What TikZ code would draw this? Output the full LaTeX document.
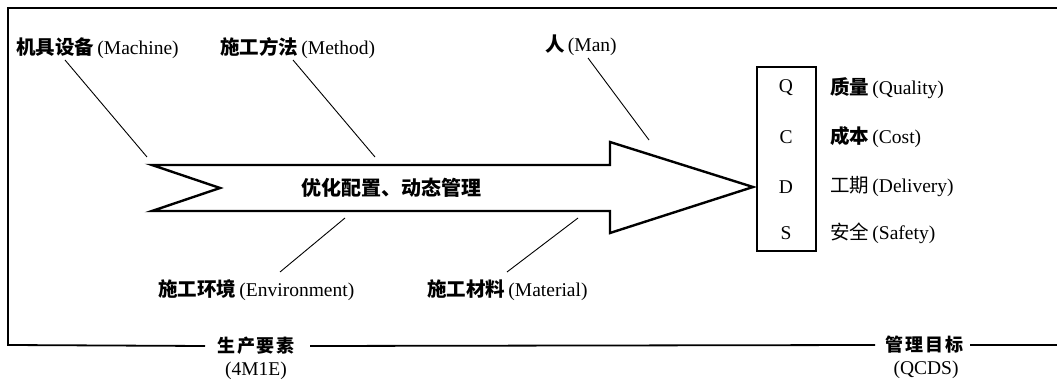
\documentclass[tikz,border=0pt]{standalone}
\usepackage{fontspec}
\setmainfont{Liberation Serif}
\newfontfamily\cjk{Noto Sans CJK SC}
\newcommand{\zh}[1]{{\cjk\bfseries #1}}
\newcommand{\zhr}[1]{{\cjk #1}}
\newcommand{\gp}{\hspace{2pt}}
\begin{document}
\begin{tikzpicture}[x=1pt,y=-1pt,
  lbl/.style={inner sep=0pt,font=\fontsize{19.5}{22}\selectfont},
  big/.style={inner sep=0pt,font=\fontsize{20}{22}\selectfont},
  captxt/.style={inner sep=0pt,font=\fontsize{18}{22}\selectfont},
  frame/.style={line width=1.8pt},
  arrowshape/.style={line width=2.4pt,line join=miter},
  fish/.style={line width=0.9pt},
  boxstyle/.style={draw,line width=1.6pt,minimum width=59pt,minimum height=184pt,inner sep=0pt}]
\useasboundingbox (0,0) rectangle (1057,379);
% labels
\node[lbl,anchor=west] (mach) at (16,48) {\zh{机具设备}\,(Machine)};
\node[lbl,anchor=west] (meth) at (220,48) {\zh{施工方法}\,(Method)};
\node[lbl,anchor=west] (man) at (545,45) {\zh{人}\,(Man)};
\node[lbl,anchor=west] (env) at (158,290) {\zh{施工环境}\,(Environment)};
\node[lbl,anchor=west] (mat) at (427,290) {\zh{施工材料}\,(Material)};
\node[big] (core) at (391,188) {\zh{优化配置、动态管理}};
% bottom captions
\node[captxt] (prod) at (256,346) {\zh{生\gp 产\gp 要\gp 素}};
\node[lbl] (prod2) at (256,371) {(4M1E)};
\node[captxt] (goal) at (924,345) {\zh{管\gp 理\gp 目\gp 标}};
\node[lbl] (goal2) at (926,370) {(QCDS)};
% frame
\coordinate (fr) at (1057,8);
\coordinate (fl) at (8,8);
\coordinate (bl) at (8,345);
\coordinate (br) at (1057,345);
\draw[frame] (fr) -- (fl) -- (bl) -- (prod.west -| 205,0);
\draw[frame] (prod.east -| 310,0) -- (goal.west -| 875,0);
\draw[frame] (goal.east -| 970,0) -- (br);
% arrow
\coordinate (t1) at (152,165);
\coordinate (tn) at (220,188);
\coordinate (t2) at (152,211);
\coordinate (s1) at (610,165);
\coordinate (h1) at (610,142);
\coordinate (tip) at (753,187);
\coordinate (h2) at (610,233);
\coordinate (s2) at (610,211);
\draw[arrowshape] (t1) -- (s1) -- (h1) -- (tip) -- (h2) -- (s2) -- (t2) -- (tn) -- cycle;
% fish bones
\coordinate (m1) at (65,60);  \coordinate (m2) at (147,157);
\coordinate (e1) at (293,60); \coordinate (e2) at (375,157);
\coordinate (n1) at (588,58); \coordinate (n2) at (649,140);
\coordinate (v1) at (345,218); \coordinate (v2) at (280,272);
\coordinate (a1) at (578,218); \coordinate (a2) at (507,272);
\draw[fish] (m1) -- (m2);
\draw[fish] (e1) -- (e2);
\draw[fish] (n1) -- (n2);
\draw[fish] (v1) -- (v2);
\draw[fish] (a1) -- (a2);
% QCDS box
\node[boxstyle] (box) at (786.5,159) {};
\node[lbl] (q) at (786,88) {Q};
\node[lbl] (c) at (786,137) {C};
\node[lbl] (d) at (786,187) {D};
\node[lbl] (s) at (786,233) {S};
\node[lbl,anchor=west] (ql) at (830,88) {\zh{质量}\,(Quality)};
\node[lbl,anchor=west] (cl) at (830,137) {\zh{成本}\,(Cost)};
\node[lbl,anchor=west] (dl) at (830,187) {\zhr{工期}\,(Delivery)};
\node[lbl,anchor=west] (sl) at (830,233) {\zhr{安全}\,(Safety)};
\end{tikzpicture}
\end{document}
